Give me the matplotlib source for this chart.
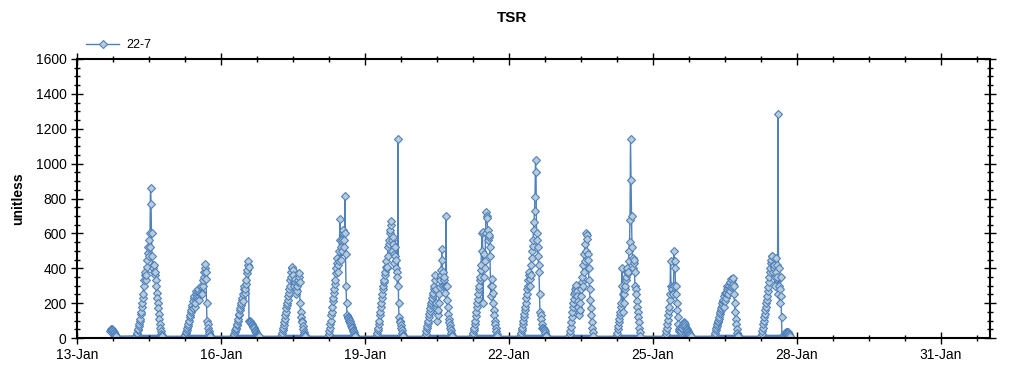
import numpy as np
import pandas as pd
import matplotlib
matplotlib.use('Agg')
import matplotlib.pyplot as plt
import matplotlib.dates as mdates
from matplotlib.ticker import MultipleLocator, FixedLocator

plt.rcParams['font.family'] = ['Liberation Sans', 'DejaVu Sans']

# TSR readings, one value every 15 minutes from each day's start time
day_starts = ['2020-01-13 16:30', '2020-01-14 05:30', '2020-01-15 05:30',
              '2020-01-16 06:00', '2020-01-17 06:00', '2020-01-18 05:30',
              '2020-01-19 05:30', '2020-01-20 06:00', '2020-01-21 05:30',
              '2020-01-22 05:30', '2020-01-23 06:00', '2020-01-24 05:30',
              '2020-01-25 06:00', '2020-01-26 06:30', '2020-01-27 06:00']

jan13 = [40, 48, 50, 52, 45, 42, 38, 33, 30, 22, 15, 12, 10]
jan14 = [12, 25, 30, 45, 50, 70, 80, 100, 110, 140, 150, 180, 200, 230, 250,
         300, 330, 360, 380, 330, 360, 410, 450, 490, 520, 470, 560, 520, 600,
         860, 770, 600, 470, 420, 400, 380, 420, 360, 380, 330, 300, 260, 230,
         200, 170, 140, 110, 80, 60, 40, 25, 15, 10]
jan15 = [10, 15, 20, 30, 35, 45, 55, 70, 80, 95, 100, 120, 130, 150, 160, 180,
         190, 170, 210, 230, 240, 180, 200, 250, 270, 230, 240, 270, 280, 240,
         220, 250, 260, 290, 300, 260, 250, 300, 330, 350, 380, 400, 425, 380,
         340, 200, 100, 80, 60, 40, 30, 15, 10]
jan16 = [10, 15, 25, 35, 45, 50, 60, 75, 80, 95, 110, 130, 140, 160, 170, 190,
         200, 220, 230, 210, 250, 280, 300, 260, 280, 310, 330, 370, 390, 420,
         440, 410, 95, 100, 90, 88, 85, 80, 75, 70, 65, 60, 55, 48, 40, 35, 30,
         25, 20, 15, 12, 10]
jan17 = [10, 20, 30, 45, 60, 75, 90, 110, 130, 150, 170, 190, 200, 220, 240,
         260, 280, 300, 330, 350, 380, 400, 410, 390, 360, 320, 300, 320, 340,
         280, 250, 270, 300, 320, 330, 350, 375, 320, 200, 150, 120, 100, 90, 70,
         50, 35, 25, 15, 10]
jan18 = [10, 25, 40, 60, 80, 100, 130, 150, 180, 210, 230, 260, 280, 310, 330,
         370, 400, 430, 460, 420, 380, 440, 500, 560, 680, 520, 450, 500, 560,
         600, 620, 560, 520, 600, 812, 480, 300, 200, 130, 120, 115, 110, 100,
         95, 85, 78, 70, 62, 55, 48, 40, 32, 25, 15, 10]
jan19 = [10, 20, 30, 45, 60, 80, 100, 130, 150, 180, 200, 230, 250, 280, 300,
         320, 330, 360, 380, 410, 440, 400, 410, 470, 520, 540, 560, 600, 620,
         650, 670, 560, 500, 540, 580, 480, 430, 470, 520, 450, 400, 380, 350,
         300, 1142, 200, 120, 100, 90, 75, 60, 45, 30, 20, 10]
jan20 = [10, 25, 40, 55, 70, 85, 100, 120, 140, 155, 170, 190, 200, 215, 230,
         245, 260, 280, 300, 330, 360, 280, 200, 150, 100, 130, 160, 200, 250,
         290, 330, 360, 390, 450, 510, 380, 300, 330, 350, 300, 260, 300, 700,
         300, 220, 180, 140, 110, 90, 75, 60, 45, 30, 20, 10]
jan21 = [10, 20, 30, 45, 60, 80, 100, 125, 150, 175, 200, 225, 250, 280, 300,
         330, 350, 390, 420, 500, 600, 610, 200, 350, 480, 440, 400, 600, 720,
         700, 690, 620, 560, 580, 590, 520, 470, 300, 240, 300, 340, 260, 200,
         160, 130, 100, 80, 60, 40, 25, 10]
jan22 = [10, 20, 30, 45, 60, 80, 100, 120, 140, 160, 180, 200, 230, 250, 280,
         300, 330, 360, 380, 340, 300, 360, 420, 460, 500, 530, 560, 620, 668,
         726, 808, 1018, 951, 600, 560, 520, 470, 420, 380, 250, 150, 130, 110,
         80, 60, 58, 55, 50, 45, 38, 30, 20, 10]
jan23 = [10, 25, 40, 65, 90, 120, 150, 175, 200, 225, 250, 265, 280, 295, 306,
         270, 240, 210, 180, 150, 130, 160, 200, 240, 280, 320, 350, 300, 420,
         380, 480, 440, 540, 500, 602, 590, 570, 480, 450, 400, 330, 280, 220,
         170, 130, 90, 60, 35, 10]
jan24 = [10, 20, 30, 50, 70, 90, 110, 130, 150, 175, 200, 300, 400, 250, 150,
         200, 250, 280, 300, 330, 350, 380, 400, 370, 380, 440, 500, 550, 678,
         1142, 907, 700, 520, 460, 400, 430, 450, 380, 300, 280, 250, 210, 180,
         150, 120, 90, 60, 35, 10]
jan25 = [10, 25, 40, 60, 80, 105, 130, 155, 180, 220, 250, 440, 300, 290, 280,
         260, 250, 300, 500, 443, 400, 300, 250, 200, 160, 120, 80, 40, 50, 60,
         45, 30, 40, 50, 60, 70, 80, 90, 85, 80, 70, 60, 55, 50, 45, 40, 35, 30,
         25, 20, 15, 10]
jan26 = [10, 20, 30, 45, 60, 70, 80, 90, 100, 110, 120, 135, 150, 160, 170, 185,
         200, 210, 220, 180, 240, 260, 210, 230, 260, 300, 280, 250, 250, 280,
         300, 270, 320, 340, 290, 300, 330, 310, 346, 300, 250, 200, 150, 110,
         80, 50, 30, 20, 10]
jan27 = [10, 25, 40, 60, 80, 100, 120, 140, 160, 180, 200, 220, 240, 270, 290,
         320, 350, 380, 400, 430, 450, 470, 470, 420, 380, 400, 420, 350, 300,
         380, 460, 420, 350, 250, 1283, 400, 300, 200, 280, 350, 240, 120, 5, 5,
         10, 15, 20, 25, 30, 35, 30, 30, 35, 35, 30, 25, 15, 10]

days = [jan13, jan14, jan15, jan16, jan17, jan18, jan19, jan20, jan21, jan22,
        jan23, jan24, jan25, jan26, jan27]

times = []
values = []
for start, vals in zip(day_starts, days):
    times.extend(pd.date_range(start, periods=len(vals), freq='15min'))
    values.extend(vals)
times = pd.DatetimeIndex(times)
values = np.array(values, dtype=float)

blue = '#4f81bd'
face = '#b9cbd8'

fig = plt.figure(figsize=(10.24, 3.75), dpi=100)
ax = fig.add_axes([77/1024, 1-338/375, 913/1024, 279/375])

# night-time baseline band
ax.fill_between(times, 0, np.minimum(values, 22), color=blue, lw=0)
ax.plot(times, values, color=blue, lw=1, marker='D', ms=4.0,
        mfc=face, mec=blue, mew=0.8, label='22-7')

ax.set_xlim(pd.Timestamp('2020-01-13'), pd.Timestamp('2020-02-01 00:30'))
ax.set_ylim(0, 1600)
major_days = pd.date_range('2020-01-13', '2020-01-31', freq='3D')
minor_days = pd.date_range('2020-01-13', '2020-02-01', freq='18h')
ax.xaxis.set_major_locator(FixedLocator(mdates.date2num(major_days)))
ax.xaxis.set_minor_locator(FixedLocator(mdates.date2num(minor_days)))
ax.xaxis.set_major_formatter(mdates.DateFormatter('%d-%b'))
ax.yaxis.set_major_locator(MultipleLocator(200))
ax.yaxis.set_minor_locator(MultipleLocator(50))

ax.tick_params(which='both', direction='inout', top=True, right=True,
               color='black', labelsize=10)
ax.tick_params(which='major', length=9, width=1, pad=3)
ax.tick_params(which='minor', length=5, width=1)
for s in ax.spines.values():
    s.set_linewidth(1.5)

ax.set_ylabel('unitless', fontsize=10, fontweight='bold')
ax.yaxis.set_label_coords(-52/913, 0.5)
fig.suptitle('TSR', y=1-18/375, va='center', fontsize=11, fontweight='bold')
fig.legend(loc='center left', bbox_to_anchor=(75/1024, 1-45/375),
           frameon=False, fontsize=9, handlelength=2.6, handletextpad=0.6)

fig.savefig('out.png', dpi=100)
